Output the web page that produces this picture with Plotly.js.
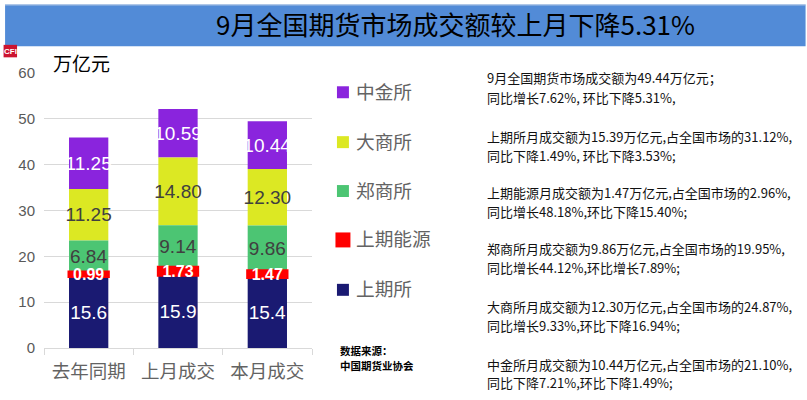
<!DOCTYPE html>
<html><head><meta charset="utf-8">
<script src="https://cdn.plot.ly/plotly-3.0.1.min.js"></script>
<style>html,body{margin:0;padding:0;background:#fff;overflow:hidden}#c{width:807px;height:400px}</style>
</head><body><div id="c"></div>
<script>
const categories = ['去年同期','上月成交','本月成交'];
const shfe  = [15.6, 15.9, 15.4];
const ine   = [0.99, 1.73, 1.47];
const czce  = [6.84, 9.14, 9.86];
const dce   = [11.25, 14.80, 12.30];
const cffex = [11.25, 10.59, 10.44];
const shfeLabels = ['15.6','15.9','15.4'];
const ineLabels = ['0.99','1.73','1.47'];
const czceLabels = ['6.84','9.14','9.86'];
const dceLabels = ['11.25','14.80','12.30'];
const cffexLabels = ['11.25','10.59','10.44'];
const legendNames = ['中金所','大商所','郑商所','上期能源','上期所'];
const legendColors = ['#8a24dd','#dce823','#4cc573','#ff0000','#1a1a72'];
const titleText = '9月全国期货市场成交额较上月下降5.31%';
const unitText = '万亿元';
const sourceLines = ['数据来源：','中国期货业协会'];
const notes = [
 '9月全国期货市场成交额为49.44万亿元；','同比增长7.62%, 环比下降5.31%,',
 '上期所月成交额为15.39万亿元,占全国市场的31.12%,','同比下降1.49%, 环比下降3.53%;',
 '上期能源月成交额为1.47万亿元,占全国市场的2.96%,','同比增长48.18%,环比下降15.40%;',
 '郑商所月成交额为9.86万亿元,占全国市场的19.95%,','同比增长44.12%,环比增长7.89%;',
 '大商所月成交额为12.30万亿元,占全国市场的24.87%,','同比增长9.33%,环比下降16.94%;',
 '中金所月成交额为10.44万亿元,占全国市场的21.10%,','同比下降7.21%,环比下降1.49%;'
];
const noteY = [77,97,136,155,192,212,249,268,307,326,365,383];
const legendY = [92,142,191,240,290];

const W=807,H=400,L=44,R=312.5,T=72.7,B=348.3;
const px=x=>(x-L)/(R-L), py=y=>(B-y)/(B-T);
const font='"Noto Sans CJK SC","Liberation Sans",sans-serif';
const num='"Liberation Sans","Noto Sans CJK SC",sans-serif';

function add(a,b){return a.map((v,i)=>v+b[i]);}
const b0=[0,0,0], b1=shfe, b2=add(b1,ine), b3=add(b2,czce), b4=add(b3,dce);
function bar(name,vals,base,labels,color,tc,size,line){
  return {type:'bar',name,x:categories,y:vals,base,text:labels,texttemplate:'%{text}',
    textposition:'inside',insidetextanchor:'middle',constraintext:'none',textangle:0,
    textfont:{family:num,size,color:tc},hoverinfo:'x+y+name',
    marker:{color,line:line||{width:0}}};
}
// Drawn top-down so that the wide red band lies over its neighbours
const data=[
 bar('中金所',cffex,b4,cffexLabels,legendColors[0],'#ffffff',19),
 bar('大商所',dce,b3,dceLabels,legendColors[1],'#404040',19),
 bar('郑商所',czce,b2,czceLabels,legendColors[2],'#404040',19),
 bar('上期所',shfe,b0,shfeLabels,legendColors[4],'#ffffff',19),
 bar('上期能源',ine,b1,ineLabels.map(t=>'<b>'+t+'</b>'),legendColors[3],'#ffffff',16,{color:'#ff0000',width:3})
];
const ann=[], shapes=[];
const T0=(x,y,text,size,color,fam,anchor)=>({xref:'paper',yref:'paper',x:px(x),y:py(y),text,showarrow:false,
  xanchor:anchor||'left',yanchor:'middle',font:{family:fam||font,size,color},align:'left'});
ann.push(T0(51,62,unitText,19,'#000000'));
notes.forEach((t,i)=>ann.push(T0(486,noteY[i],t,13,'#111111')));
legendNames.forEach((t,i)=>{
  ann.push(T0(355,legendY[i]-2,t,18.7,'#636363'));
  const s=i===3?7.5:6;
  shapes.push({type:'rect',xref:'paper',yref:'paper',x0:px(343.5-s),x1:px(343.5+s),y0:py(legendY[i]-s),y1:py(legendY[i]+s),
    fillcolor:legendColors[i],line:{width:0}});
});
sourceLines.forEach((t,i)=>ann.push(T0(338.5,351+i*15,'<b>'+t+'</b>',10.5,'#000000')));
shapes.push({type:'rect',xref:'paper',yref:'paper',x0:px(5),x1:px(807),y0:py(4),y1:py(46),fillcolor:'#528bd7',line:{width:0},layer:'below'});
shapes.push({type:'line',xref:'paper',yref:'paper',x0:px(5),x1:px(807),y0:py(4.5),y1:py(4.5),line:{color:'#b4c9e6',width:1},layer:'below'});
shapes.push({type:'rect',xref:'paper',yref:'paper',x0:px(3.5),x1:px(17),y0:py(44.5),y1:py(57),fillcolor:'#cc1430',line:{width:0}});
ann.push(T0(10.2,51,'<b>CFI</b>',8,'#ffffff',num,'center'));

Plotly.newPlot('c',data,{
  width:W,height:H,paper_bgcolor:'#ffffff',plot_bgcolor:'#ffffff',showlegend:false,
  title:{text:titleText,font:{family:font,size:26,color:'#000000'},xref:'container',yref:'container',x:455.5/W,xanchor:'center',y:1-26/H,yanchor:'middle'},
  margin:{l:L,r:W-R,t:T,b:H-B,pad:0},
  barmode:'overlay',bargap:0.56,
  xaxis:{type:'category',tickson:'boundaries',ticks:'outside',ticklen:6,tickcolor:'#d9d9d9',tickwidth:1,
    showline:true,linecolor:'#d9d9d9',linewidth:1,showgrid:false,zeroline:false,ticklabelstandoff:7,
    tickfont:{family:font,size:18.5,color:'#636363'}},
  yaxis:{range:[0,60],tick0:0,dtick:10,showgrid:true,gridcolor:'#d9d9d9',gridwidth:1,zeroline:false,showline:false,ticks:'',
    tickfont:{family:num,size:15,color:'#595959'},ticklabelstandoff:8},
  annotations:ann,shapes
},{displayModeBar:false,responsive:false});
</script></body></html>
